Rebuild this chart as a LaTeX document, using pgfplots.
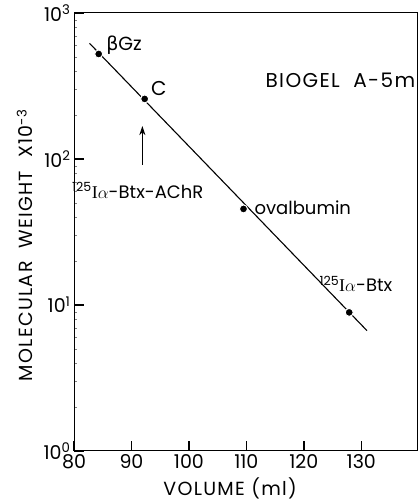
\documentclass[border=0pt]{standalone}
\usepackage{pgfplots}
\pgfplotsset{compat=1.18}
\usetikzlibrary{arrows.meta}
\usepackage{fontspec}
\setmainfont{Poppins}
\newfontfamily\gk{DejaVu Sans}
\newfontfamily\serf{Liberation Serif}
\newcommand{\Ia}{{\serf I}$\alpha$}
\newcommand{\ls}{\addfontfeature{LetterSpace=7}}
\begin{document}
\begin{tikzpicture}
\begin{axis}[
  scale only axis, width=343pt, height=438pt,
  ymode=log, xmin=80, xmax=139.7, ymin=1, ymax=1000,
  xtick={80,90,100,110,120,130},
  ytick={1,10,100,1000},
  yticklabels={{10\textsuperscript{0}},{10\textsuperscript{1}},{10\textsuperscript{2}},{10\textsuperscript{3}}},
  xtick pos=bottom, ytick pos=left,
  tick align=inside,
  major tick length=10pt,
  major tick style={black, line width=1.4pt},
  axis line style={black, line width=1pt},
  ticklabel style={font=\fontsize{19}{21}\selectfont},
  /pgf/number format/assume math mode=true,
  clip=false,
]
% tick marks in data units
\addplot[black, line width=1.4pt, forget plot] coordinates {(90,1) (90,1.17)};
\addplot[black, line width=1.4pt, forget plot] coordinates {(100,1) (100,1.17)};
\addplot[black, line width=1.4pt, forget plot] coordinates {(110,1) (110,1.17)};
\addplot[black, line width=1.4pt, forget plot] coordinates {(120,1) (120,1.17)};
\addplot[black, line width=1.4pt, forget plot] coordinates {(130,1) (130,1.17)};
\addplot[black, line width=1.4pt, forget plot] coordinates {(80,10) (81.75,10)};
\addplot[black, line width=1.4pt, forget plot] coordinates {(80,100) (81.75,100)};
\addplot[black, line width=1.4pt, forget plot] coordinates {(80,1000) (81.75,1000)};
\addplot[black, line width=1.1pt] coordinates {(82.7,620) (131.0,6.67)};
\addplot[only marks, mark=*, mark size=4pt, mark options={fill=black, draw=white, line width=1pt}]
  coordinates {(84.3,524) (92.3,258) (109.5,45.5) (127.9,8.9)};
\addplot[black, line width=1pt, -{Stealth[length=9pt,width=6pt]}] coordinates {(91.9,91) (91.9,168)};
\node[anchor=west, font=\fontsize{19}{22}\selectfont] at (axis cs:85.0,603) {{\gk β}Gz};
\node[anchor=west, font=\fontsize{20}{22}\selectfont] at (axis cs:92.8,306) {C};
\node[anchor=base west, font=\fontsize{18}{21}\selectfont, inner sep=0pt] at (axis cs:79.65,54) {\textsuperscript{125}\Ia-Btx-AChR};
\node[anchor=base west, font=\fontsize{18}{21}\selectfont, inner sep=0pt] at (axis cs:111.4,42) {ovalbumin};
\node[anchor=base west, font=\fontsize{20}{22}\selectfont\ls, inner sep=0pt] at (axis cs:113.3,311) {BIOGEL\ \ A-5m};
\node[anchor=base west, font=\fontsize{18}{21}\selectfont, inner sep=0pt] at (axis cs:122.7,12.3) {\textsuperscript{125}\Ia-Btx};
\node[anchor=base, font=\fontsize{19}{21}\selectfont\ls, inner sep=0pt] at ([yshift=-44pt]rel axis cs:0.455,0) {VOLUME (ml)};
\node[rotate=90, anchor=center, font=\fontsize{19}{22}\selectfont\ls, inner sep=0pt] at ([xshift=-49pt]rel axis cs:0,0.47) {MOLECULAR\ \ WEIGHT\ \ X10\textsuperscript{-3}};
\coordinate (bl) at (rel axis cs:0,0);
\coordinate (tr) at (rel axis cs:1,1);
\end{axis}
\pgfresetboundingbox
\path ([shift={(-74pt,-50pt)}]bl) rectangle ([shift={(1pt,13pt)}]tr);
\end{tikzpicture}
\end{document}
